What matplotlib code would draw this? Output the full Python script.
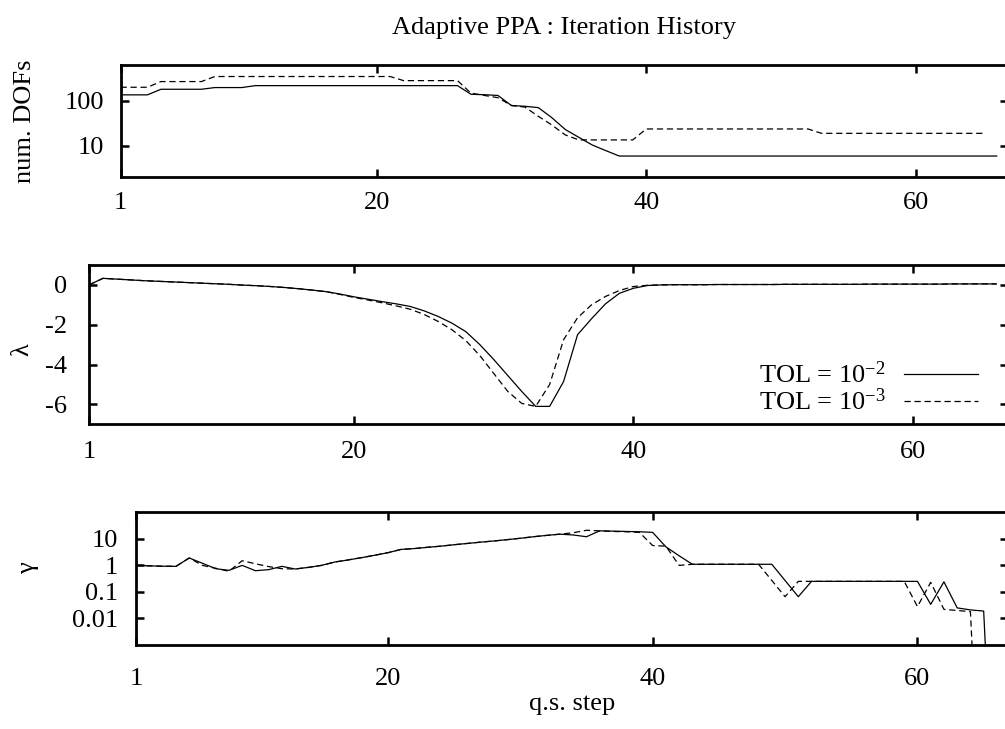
import matplotlib
matplotlib.use("Agg")
import matplotlib.pyplot as plt

plt.rcParams['font.family'] = ['Liberation Serif', 'DejaVu Serif']
plt.rcParams['mathtext.fontset'] = 'custom'
plt.rcParams['mathtext.rm'] = 'Liberation Serif'
plt.rcParams['mathtext.it'] = 'Liberation Serif:italic'
plt.rcParams['axes.unicode_minus'] = False

# q.s. steps
steps_66 = list(range(1, 67))
steps_65 = list(range(1, 66))

# number of DOFs, TOL = 1e-2 (steps 1..66) and TOL = 1e-3 (steps 1..65)
dofs_tol2 = [134, 134, 134, 178, 178, 178, 178, 194, 194, 194,
             214, 214, 214, 214, 214, 214, 214, 214, 214, 214,
             214, 214, 214, 214, 214, 214, 138, 135, 130, 78,
             75, 70, 42, 23, 15.5, 10.5, 7.9, 6, 6, 6,
             6, 6, 6, 6, 6, 6, 6, 6, 6, 6,
             6, 6, 6, 6, 6, 6, 6, 6, 6, 6,
             6, 6, 6, 6, 6, 6]
dofs_tol3 = [197, 197, 197, 263, 263, 263, 263, 340, 340, 340,
             340, 340, 340, 340, 340, 340, 340, 340, 340, 340,
             340, 276, 276, 276, 276, 276, 146, 130, 116, 78,
             72, 45, 29, 17.5, 13.6, 13.6, 13.6, 13.6, 13.6, 23.7,
             23.7, 23.7, 23.7, 23.7, 23.7, 23.7, 23.7, 23.7, 23.7, 23.7,
             23.7, 23.7, 19, 19, 19, 19, 19, 19, 19, 19,
             19, 19, 19, 19, 19]

# lambda (steps 1..66)
lam_tol2 = [0.0, 0.33, 0.29, 0.25, 0.21, 0.18, 0.15, 0.12, 0.09, 0.06,
            0.03, -0.01, -0.04, -0.08, -0.13, -0.19, -0.26, -0.34, -0.46, -0.6,
            -0.72, -0.84, -0.95, -1.08, -1.3, -1.58, -1.92, -2.35, -3.0, -3.75,
            -4.55, -5.35, -6.1, -6.1, -4.85, -2.5, -1.7, -0.95, -0.42, -0.17,
            -0.03, 0.0, 0.01, 0.01, 0.01, 0.02, 0.02, 0.02, 0.02, 0.02,
            0.03, 0.03, 0.03, 0.03, 0.03, 0.03, 0.04, 0.04, 0.04, 0.04,
            0.04, 0.04, 0.05, 0.05, 0.05, 0.05]
lam_tol3 = [0.0, 0.33, 0.29, 0.25, 0.21, 0.18, 0.15, 0.12, 0.09, 0.06,
            0.03, -0.01, -0.04, -0.08, -0.13, -0.19, -0.26, -0.34, -0.48, -0.63,
            -0.76, -0.9, -1.05, -1.22, -1.48, -1.83, -2.25, -2.8, -3.55, -4.45,
            -5.35, -5.95, -6.1, -5.0, -2.75, -1.65, -1.0, -0.58, -0.28, -0.08,
            -0.02, 0.0, 0.01, 0.01, 0.01, 0.02, 0.02, 0.02, 0.02, 0.02,
            0.03, 0.03, 0.03, 0.03, 0.03, 0.03, 0.04, 0.04, 0.04, 0.04,
            0.04, 0.04, 0.05, 0.05, 0.05, 0.05]

# gamma, TOL = 1e-2 (steps 1..66) and TOL = 1e-3 (steps 1..65)
gam_tol2 = [1.0, 0.96, 0.93, 0.92, 1.9, 1.2, 0.75, 0.65, 1.0, 0.63,
            0.69, 0.92, 0.73, 0.84, 1.0, 1.34, 1.6, 1.95, 2.4, 3.0,
            4.0, 4.3, 4.8, 5.3, 6.0, 6.7, 7.5, 8.3, 9.3, 10.5,
            12, 13.5, 15, 14, 12, 20, 19.5, 19, 18.5, 17.5,
            5.0, 2.3, 1.1, 1.1, 1.1, 1.1, 1.1, 1.1, 1.1, 0.27,
            0.066, 0.25, 0.25, 0.25, 0.25, 0.25, 0.25, 0.25, 0.25, 0.25,
            0.034, 0.24, 0.025, 0.021, 0.019, 1e-12]
gam_tol3 = [1.0, 0.96, 0.93, 0.92, 1.9, 1.0, 0.78, 0.6, 1.5, 1.15,
            0.9, 0.75, 0.73, 0.84, 1.0, 1.34, 1.6, 1.95, 2.4, 3.0,
            4.0, 4.3, 4.8, 5.3, 6.0, 6.7, 7.5, 8.3, 9.3, 10.5,
            12, 13.5, 15, 17, 21, 20, 19, 18.5, 17.5, 5.6,
            5.3, 1.0, 1.1, 1.1, 1.1, 1.1, 1.1, 1.1, 0.27, 0.066,
            0.25, 0.25, 0.25, 0.25, 0.25, 0.25, 0.25, 0.25, 0.25, 0.028,
            0.23, 0.022, 0.02, 0.018, 1e-12]

x_ticks = [1, 20, 40, 60]

W, H = 1005.0, 729.0
FS = 19


def box(l, t, r, b):
    return [l / W, 1 - b / H, (r - l) / W, (b - t) / H]


def style_axis(ax, ypad, xpad):
    for s in ax.spines.values():
        s.set_linewidth(2.0)
    ax.tick_params(direction='in', length=5.5, width=1.8, top=True, right=True,
                   labelsize=FS, which='major')
    ax.tick_params(which='minor', left=False, right=False, bottom=False, top=False)
    ax.tick_params(axis='y', pad=ypad)
    ax.tick_params(axis='x', pad=xpad)
    ax.set_xlim(1, 66.8)
    ax.set_xticks(x_ticks)
    ax.set_xticklabels([str(t) for t in x_ticks])


fig = plt.figure(figsize=(10.05, 7.29), dpi=100)

solid = dict(color='black', lw=0.9, linestyle='-')
dashed = dict(color='black', lw=0.9, linestyle=(0, (5, 3)))

# top panel: number of DOFs
ax1 = fig.add_axes(box(120.5, 65, 1007.5, 177))
ax1.plot(steps_66, dofs_tol2, **solid)
ax1.plot(steps_65, dofs_tol3, **dashed)
ax1.set_yscale('log')
ax1.set_ylim(2.07, 610)
ax1.set_yticks([10, 100])
ax1.set_yticklabels(['10', '100'])
style_axis(ax1, 11.5, 10.5)
ax1.set_title('Adaptive PPA : Iteration History', fontsize=FS, pad=22)
ax1.set_ylabel('num. DOFs', fontsize=FS, va='center')
ax1.yaxis.set_label_coords(25 / W, 1 - 121 / H, transform=fig.transFigure)

# middle panel: lambda
ax2 = fig.add_axes(box(89, 265, 1007.5, 424.3))
ax2.plot(steps_66, lam_tol2, label='TOL = 10$^{-2}$', **solid)
ax2.plot(steps_66, lam_tol3, label='TOL = 10$^{-3}$', **dashed)
ax2.set_ylim(-7, 1)
ax2.set_yticks([0, -2, -4, -6])
ax2.set_yticklabels(['0', '-2', '-4', '-6'])
style_axis(ax2, 16, 12)
ax2.set_ylabel('λ', fontsize=FS, va='center')
ax2.yaxis.set_label_coords(22 / W, 1 - 350 / H, transform=fig.transFigure)
ax2.legend(loc='lower right', bbox_to_anchor=(0.968, 0.06), frameon=False,
           markerfirst=False, handlelength=2.8, handletextpad=0.7,
           labelspacing=0.0, borderaxespad=0, borderpad=0, fontsize=FS)

# bottom panel: gamma
ax3 = fig.add_axes(box(136.25, 512.3, 1007.5, 645))
ax3.plot(steps_66, gam_tol2, **solid)
ax3.plot(steps_65, gam_tol3, **dashed)
ax3.set_yscale('log')
ax3.set_ylim(1e-3, 1e2)
ax3.set_yticks([0.01, 0.1, 1, 10])
ax3.set_yticklabels(['0.01', '0.1', '1', '10'])
style_axis(ax3, 13, 16.5)
ax3.set_ylabel('γ', fontsize=FS, va='center')
ax3.yaxis.set_label_coords(28 / W, 1 - 568 / H, transform=fig.transFigure)
ax3.set_xlabel('q.s. step', fontsize=FS, va='center')
ax3.xaxis.set_label_coords(572 / W, 1 - 704 / H, transform=fig.transFigure)

fig.savefig('out.png', dpi=100)
